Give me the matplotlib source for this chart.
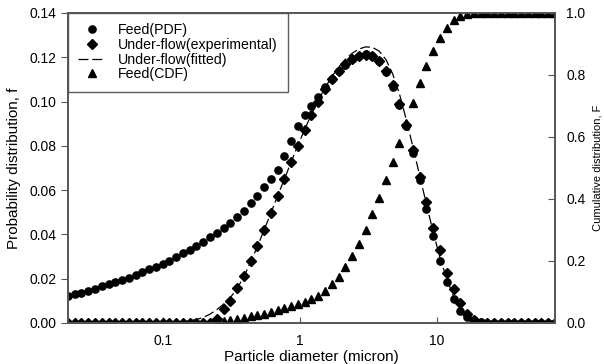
import numpy as np
import matplotlib.pyplot as plt
from matplotlib.ticker import FixedLocator, FormatStrFormatter, NullLocator

plt.rcParams['font.family'] = ['Liberation Sans', 'DejaVu Sans']

# particle diameter (micron), log spaced grid
diameter = [0.0201, 0.0225, 0.0252, 0.0283, 0.0317, 0.0355, 0.0398, 0.0446, 0.0500, 0.0560,
            0.0628, 0.0704, 0.0789, 0.0884, 0.0991, 0.1110, 0.1245, 0.1395, 0.1563, 0.1752,
            0.1963, 0.2200, 0.2466, 0.2763, 0.3097, 0.3471, 0.3890, 0.4359, 0.4885, 0.5475,
            0.6138, 0.6879, 0.7709, 0.8639, 0.9683, 1.085, 1.216, 1.363, 1.528, 1.712,
            1.919, 2.150, 2.410, 2.701, 3.027, 3.392, 3.802, 4.261, 4.775, 5.352,
            5.998, 6.722, 7.534, 8.443, 9.462, 10.60, 11.89, 13.32, 14.93, 16.73,
            18.75, 21.02, 23.55, 26.40, 29.58, 33.15, 37.15, 41.64, 46.67, 52.30,
            58.61, 65.69, 73.62]

feed_pdf = [0.0122, 0.0130, 0.0137, 0.0146, 0.0155, 0.0165, 0.0174, 0.0184, 0.0195, 0.0205,
            0.0217, 0.0230, 0.0242, 0.0255, 0.0267, 0.0282, 0.0299, 0.0314, 0.0331, 0.0347,
            0.0367, 0.0387, 0.0408, 0.0429, 0.0453, 0.0480, 0.0507, 0.0541, 0.0574, 0.0612,
            0.0649, 0.0689, 0.0755, 0.0822, 0.0890, 0.0940, 0.0980, 0.1020, 0.1065, 0.1100,
            0.1137, 0.1166, 0.1192, 0.1207, 0.1214, 0.1207, 0.1181, 0.1134, 0.1068, 0.0983,
            0.0888, 0.0770, 0.0648, 0.0515, 0.0391, 0.0278, 0.0183, 0.0107, 0.0056, 0.0029,
            0.0012, 0.0004, 0.0, 0.0, 0.0, 0.0, 0.0, 0.0, 0.0, 0.0,
            0.0, 0.0, 0.0]

underflow_exp = [0.0, 0.0, 0.0, 0.0, 0.0, 0.0, 0.0, 0.0, 0.0, 0.0,
                 0.0, 0.0, 0.0, 0.0, 0.0, 0.0, 0.0, 0.0, 0.0, 0.0,
                 0.0, 0.0, 0.0020, 0.0062, 0.0101, 0.0157, 0.0213, 0.0278, 0.0346, 0.0421,
                 0.0497, 0.0575, 0.0651, 0.0726, 0.0799, 0.0870, 0.0938, 0.0997, 0.1056, 0.1100,
                 0.1140, 0.1170, 0.1192, 0.1207, 0.1212, 0.1205, 0.1185, 0.1140, 0.1075, 0.0990,
                 0.0895, 0.0780, 0.0660, 0.0545, 0.0429, 0.0328, 0.0228, 0.0153, 0.0092, 0.0040,
                 0.0012, 0.0, 0.0, 0.0, 0.0, 0.0, 0.0, 0.0, 0.0, 0.0,
                 0.0, 0.0, 0.0]

underflow_fit = [0.0, 0.0, 0.0, 0.0, 0.0, 0.0, 0.0, 0.0, 0.0, 0.0,
                 0.0, 0.0, 0.0, 0.0, 0.0, 0.0, 0.0003, 0.0006, 0.0010, 0.0016,
                 0.0025, 0.0040, 0.0060, 0.0085, 0.0115, 0.0155, 0.0210, 0.0275, 0.0345, 0.0420,
                 0.0497, 0.0575, 0.0650, 0.0728, 0.0803, 0.0875, 0.0942, 0.1005, 0.1062, 0.1112,
                 0.1155, 0.1190, 0.1218, 0.1237, 0.1247, 0.1245, 0.1228, 0.1190, 0.1125, 0.1035,
                 0.0920, 0.0795, 0.0665, 0.0535, 0.0410, 0.0295, 0.0198, 0.0120, 0.0063, 0.0027,
                 0.0010, 0.0003, 0.0, 0.0, 0.0, 0.0, 0.0, 0.0, 0.0, 0.0,
                 0.0, 0.0, 0.0]

cdf_start = 22
feed_cdf = [0.004, 0.007, 0.010, 0.013, 0.017, 0.021, 0.025, 0.030, 0.035, 0.041,
            0.047, 0.054, 0.061, 0.068, 0.076, 0.087, 0.104, 0.125, 0.150, 0.180,
            0.215, 0.255, 0.300, 0.350, 0.403, 0.460, 0.518, 0.582, 0.645, 0.709,
            0.774, 0.828, 0.878, 0.919, 0.951, 0.976, 0.991, 0.998, 1.0, 1.0,
            1.0, 1.0, 1.0, 1.0, 1.0, 1.0, 1.0, 1.0, 1.0, 1.0,
            1.0]

fig = plt.figure(figsize=(6.04, 3.64), dpi=100)
ax = fig.add_axes([68 / 604, 41 / 364, 487 / 604, 310 / 364])
ax2 = ax.twinx()

l1, = ax.plot(diameter, feed_pdf, 'o', color='black', ms=5.2, label='Feed(PDF)')
l2, = ax.plot(diameter, underflow_exp, 'D', color='black', ms=4.6, label='Under-flow(experimental)')
l3, = ax.plot(diameter, underflow_fit, '--', color='black', lw=0.9, dashes=(8, 3),
              label='Under-flow(fitted)')
l4, = ax2.plot(diameter[cdf_start:], feed_cdf, '^', color='black', ms=5.2, label='Feed(CDF)')

ax.set_xscale('log')
ax.set_xlim(diameter[0], diameter[-1])
ax.set_ylim(0, 0.14)
ax2.set_ylim(0, 1.0)

ax.xaxis.set_major_locator(FixedLocator([0.1, 1, 10]))
ax.xaxis.set_major_formatter(FormatStrFormatter('%g'))
ax.xaxis.set_minor_locator(NullLocator())
ax.set_yticks(np.arange(0, 0.141, 0.02))
ax.yaxis.set_major_formatter(FormatStrFormatter('%.2f'))
ax2.set_yticks(np.arange(0, 1.01, 0.2))
ax2.yaxis.set_major_formatter(FormatStrFormatter('%.1f'))

ax.tick_params(axis='x', direction='in', length=4, labelsize=10, pad=8, color='#555555')
ax.tick_params(axis='y', direction='out', length=5, labelsize=10, color='#555555')
ax2.tick_params(axis='y', direction='in', length=5, labelsize=10, pad=8, color='#555555')

for a in (ax, ax2):
    for s in a.spines.values():
        s.set_color('#555555')
        s.set_linewidth(1.2)

ax.set_xlabel('Particle diameter (micron)', fontsize=11, labelpad=1)
ax.set_ylabel('Probability distribution, f', fontsize=11, labelpad=6)
ax2.set_ylabel('Cumulative distribution, F', fontsize=8, labelpad=5)

leg = ax.legend(handles=[l1, l2, l3, l4], loc='upper left', bbox_to_anchor=(0, 1),
                borderaxespad=0, fontsize=10.2, frameon=True, fancybox=False,
                edgecolor='#333333', labelspacing=0.05, handlelength=1.9,
                handletextpad=0.9, borderpad=0.72)
leg.get_frame().set_linewidth(1.0)
leg.set_zorder(5)

fig.savefig('out.png', dpi=100)
